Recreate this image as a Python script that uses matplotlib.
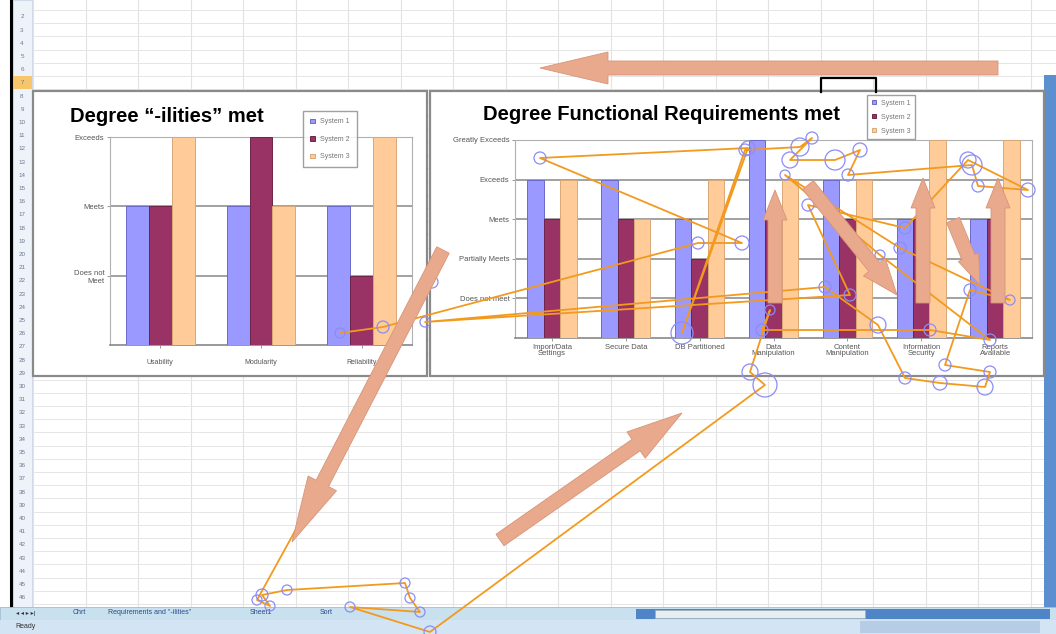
import numpy as np
import matplotlib.pyplot as plt
import matplotlib.patches as mpatches

plt.rcParams['font.family'] = ['Liberation Sans', 'DejaVu Sans']

W, H = 1056, 634

# ---- chart data ----
ility_cats = ["Usability", "Modularity", "Reliability"]
ility_levels = ["Does not\nMeet", "Meets", "Exceeds"]
ility_s1 = [2, 2, 2]
ility_s2 = [2, 3, 1]
ility_s3 = [3, 2, 3]

func_cats = ["Import/Data\nSettings", "Secure Data", "DB Partitioned", "Data\nManipulation",
             "Content\nManipulation", "Information\nSecurity", "Reports\nAvailable"]
func_levels = ["Does not meet", "Partially Meets", "Meets", "Exceeds", "Greatly Exceeds"]
func_s1 = [4, 4, 3, 5, 4, 3, 3]
func_s2 = [3, 3, 2, 3, 3, 3, 3]
func_s3 = [4, 3, 4, 4, 4, 5, 5]

series_names = ["System 1", "System 2", "System 3"]
series_colors = ["#9999ff", "#993366", "#ffcc99"]
series_edges = ["#6a6ac8", "#6e2448", "#d9a878"]

# ---- eye-tracking scanpath (x px, y px, fixation radius px) ----
scan_x = [340, 383, 698, 742, 540, 748, 682, 745, 800, 812, 790, 835, 860, 848, 972, 978,
          1028, 968, 905, 808, 850, 425, 825, 878, 905, 940, 985, 990, 945, 970, 1010, 900,
          785, 880, 990, 930, 762, 770, 750, 765,
          430, 350, 420, 410, 405, 287, 262, 270, 257, 432]
scan_y = [333, 327, 243, 243, 158, 148, 333, 150, 147, 138, 160, 160, 150, 175, 165, 186,
          190, 160, 228, 205, 295, 322, 287, 325, 378, 383, 387, 372, 365, 290, 300, 248,
          175, 255, 340, 330, 330, 310, 372, 385,
          632, 607, 612, 598, 583, 590, 595, 606, 600, 282]
scan_r = [5, 6, 6, 7, 6, 7, 11, 6, 9, 6, 8, 10, 7, 6, 10, 6,
          7, 8, 6, 6, 6, 5, 6, 8, 6, 7, 8, 6, 6, 6, 5, 6,
          5, 5, 6, 6, 6, 5, 8, 12,
          6, 5, 5, 5, 5, 5, 6, 5, 5, 6]

# ---- attention arrows: tail x, tail y, tip x, tip y, head width, head length ----
arrow_tail_x = [998, 443, 500, 775, 808, 923, 953, 998]
arrow_tail_y = [68, 250, 540, 303, 185, 303, 220, 303]
arrow_tip_x = [540, 292, 682, 775, 897, 923, 980, 998]
arrow_tip_y = [68, 542, 413, 190, 295, 178, 285, 178]
arrow_head_w = [32, 32, 32, 24, 28, 24, 22, 24]
arrow_head_l = [68, 66, 56, 30, 36, 30, 30, 30]

fig = plt.figure(figsize=(W / 100, H / 100), dpi=100)


def px_axes(x0, y0, x1, y1, z):
    return fig.add_axes([x0 / W, 1 - y1 / H, (x1 - x0) / W, (y1 - y0) / H], zorder=z)


# spreadsheet background
bg = px_axes(0, 0, W, H, 0)
bg.set_xlim(0, W)
bg.set_ylim(H, 0)
bg.axis('off')
for x in np.arange(33, W, 52.5):
    bg.plot([x, x], [0, 607], color="#e2e2e2", lw=0.8, zorder=1)
for y in np.arange(10, 607, 13.2):
    bg.plot([32, W], [y, y], color="#e6e6e6", lw=0.7, zorder=1)
bg.add_patch(mpatches.Rectangle((13, 0), 19, 607, fc="#eef3fa", ec="#c8d4e4", lw=0.6, zorder=2))
for k, y in enumerate(np.arange(10, 600, 13.2)):
    r = k + 2
    if r == 7:
        bg.add_patch(mpatches.Rectangle((13, y), 19, 13.2, fc="#f7c56a", ec="none", zorder=2))
    bg.text(22, y + 7, str(r), fontsize=4.5, color="#6b7890", ha="center", va="center", zorder=3)
bg.plot([11, 11], [0, H], color="black", lw=2.2, zorder=3)
bg.add_patch(mpatches.Rectangle((1044, 75), 12, 548, fc="#5b8fd0", ec="none", zorder=2))
# chart panels
bg.add_patch(mpatches.Rectangle((33, 91), 394, 285, fc="white", ec="#8a8a8a", lw=1.6, zorder=3))
bg.add_patch(mpatches.Rectangle((430, 91), 614, 285, fc="white", ec="#8a8a8a", lw=1.6, zorder=3))
bg.plot([821, 821, 876, 876], [92, 78, 78, 92], color="black", lw=1.6, zorder=4)
# tab bar & status bar
bg.add_patch(mpatches.Rectangle((0, 607), W, 13, fc="#c9e0ee", ec="#9fbdd3", lw=0.6, zorder=3))
bg.add_patch(mpatches.Rectangle((636, 609), 414, 10, fc="#4f84c6", ec="none", zorder=4))
bg.add_patch(mpatches.Rectangle((655, 610), 210, 8, fc="#e6eef0", ec="#9ab0b8", lw=0.5, zorder=5))
bg.add_patch(mpatches.Rectangle((0, 620), W, 14, fc="#d3e4f5", ec="none", zorder=3))
bg.add_patch(mpatches.Rectangle((860, 621), 180, 12, fc="#b7cde6", ec="none", zorder=4))
bg.text(16, 613, "◂ ◂ ▸ ▸|", fontsize=4.5, color="#334", va="center", zorder=6)
for tx, tlab in zip([73, 108, 250, 320], ["Chrt", "Requirements and \"-ilities\"", "Sheet1", "Sort"]):
    bg.text(tx, 613, tlab, fontsize=5, color="#2a4a8a", va="center", zorder=6)
bg.text(15, 627, "Ready", fontsize=5, color="#333", va="center", zorder=6)


def style_axes(ax, levels):
    ax.set_facecolor("white")
    ax.set_yticks(range(1, len(levels) + 1))
    ax.set_yticklabels(levels, fontsize=5.5, color="#555555")
    ax.grid(axis="y", color="#9a9a9a", lw=1.3, zorder=0)
    ax.tick_params(axis="both", length=2, width=0.6, color="#888888", pad=2)
    for s in ax.spines.values():
        s.set_color("#b0b0b0")
        s.set_linewidth(0.8)
    ax.spines["bottom"].set_color("#888888")
    ax.spines["bottom"].set_linewidth(1.2)


# left chart
axl = px_axes(110, 137, 412, 345, 2)
xl = np.arange(len(ility_cats))
wl = 0.228
for i, vals in enumerate([ility_s1, ility_s2, ility_s3]):
    axl.bar(xl + (i - 1) * wl, vals, wl, color=series_colors[i], edgecolor=series_edges[i],
            lw=0.7, zorder=3, label=series_names[i])
axl.set_xlim(-0.5, len(ility_cats) - 0.5)
axl.set_ylim(0, 3)
style_axes(axl, ility_levels)
axl.set_xticks(xl)
axl.set_xticklabels(ility_cats, fontsize=5, color="#555555")
axl.tick_params(axis="x", pad=8)
leg = axl.legend(loc="upper left", bbox_to_anchor=((300 - 110) / 302, (345 - 108) / 208),
                 fontsize=5, frameon=True, fancybox=False, edgecolor="#888888",
                 handlelength=0.6, handleheight=0.6, borderpad=1.0, labelspacing=1.5)
for t in leg.get_texts():
    t.set_color("#777777")
fig.text(70 / W, 1 - 117 / H, "Degree \u201c-ilities\u201d met", fontsize=14.5, fontweight="bold",
         va="center", zorder=3)

# right chart
axr = px_axes(515, 140, 1032, 338, 2)
xr = np.arange(len(func_cats))
wr = 0.223
for i, vals in enumerate([func_s1, func_s2, func_s3]):
    axr.bar(xr + (i - 1) * wr, vals, wr, color=series_colors[i], edgecolor=series_edges[i],
            lw=0.7, zorder=3, label=series_names[i])
axr.set_xlim(-0.5, len(func_cats) - 0.5)
axr.set_ylim(0, 5)
style_axes(axr, func_levels)
axr.set_xticks(xr)
axr.set_xticklabels(func_cats, fontsize=5.5, color="#555555", linespacing=0.9)
leg = axr.legend(loc="upper left", bbox_to_anchor=((864 - 515) / 517, (338 - 92) / 198),
                 fontsize=5, frameon=True, fancybox=False, edgecolor="#888888",
                 handlelength=0.6, handleheight=0.6, borderpad=0.6, labelspacing=1.0)
for t in leg.get_texts():
    t.set_color("#777777")
fig.text(483 / W, 1 - 114 / H, "Degree Functional Requirements met", fontsize=14.5,
         fontweight="bold", va="center", zorder=3)

# overlay: scanpath + arrows
ov = px_axes(0, 0, W, H, 5)
ov.set_xlim(0, W)
ov.set_ylim(H, 0)
ov.axis('off')
ov.patch.set_alpha(0)
ov.plot(scan_x, scan_y, color="#f29a1e", lw=1.3, zorder=2, solid_joinstyle="round")
sizes = [(2 * r * 0.72) ** 2 for r in scan_r]
ov.scatter(scan_x, scan_y, s=sizes, facecolors="none", edgecolors="#8c8cf5", linewidths=0.9, zorder=3)

for tx, ty, hx, hy, hw, hl in zip(arrow_tail_x, arrow_tail_y, arrow_tip_x, arrow_tip_y,
                                  arrow_head_w, arrow_head_l):
    ov.add_patch(mpatches.FancyArrow(tx, ty, hx - tx, hy - ty, width=14, head_width=hw,
                                     head_length=hl, length_includes_head=True,
                                     fc="#e8a98c", ec="#d89478", lw=0.6, zorder=4))

fig.savefig("out.png", dpi=100)
